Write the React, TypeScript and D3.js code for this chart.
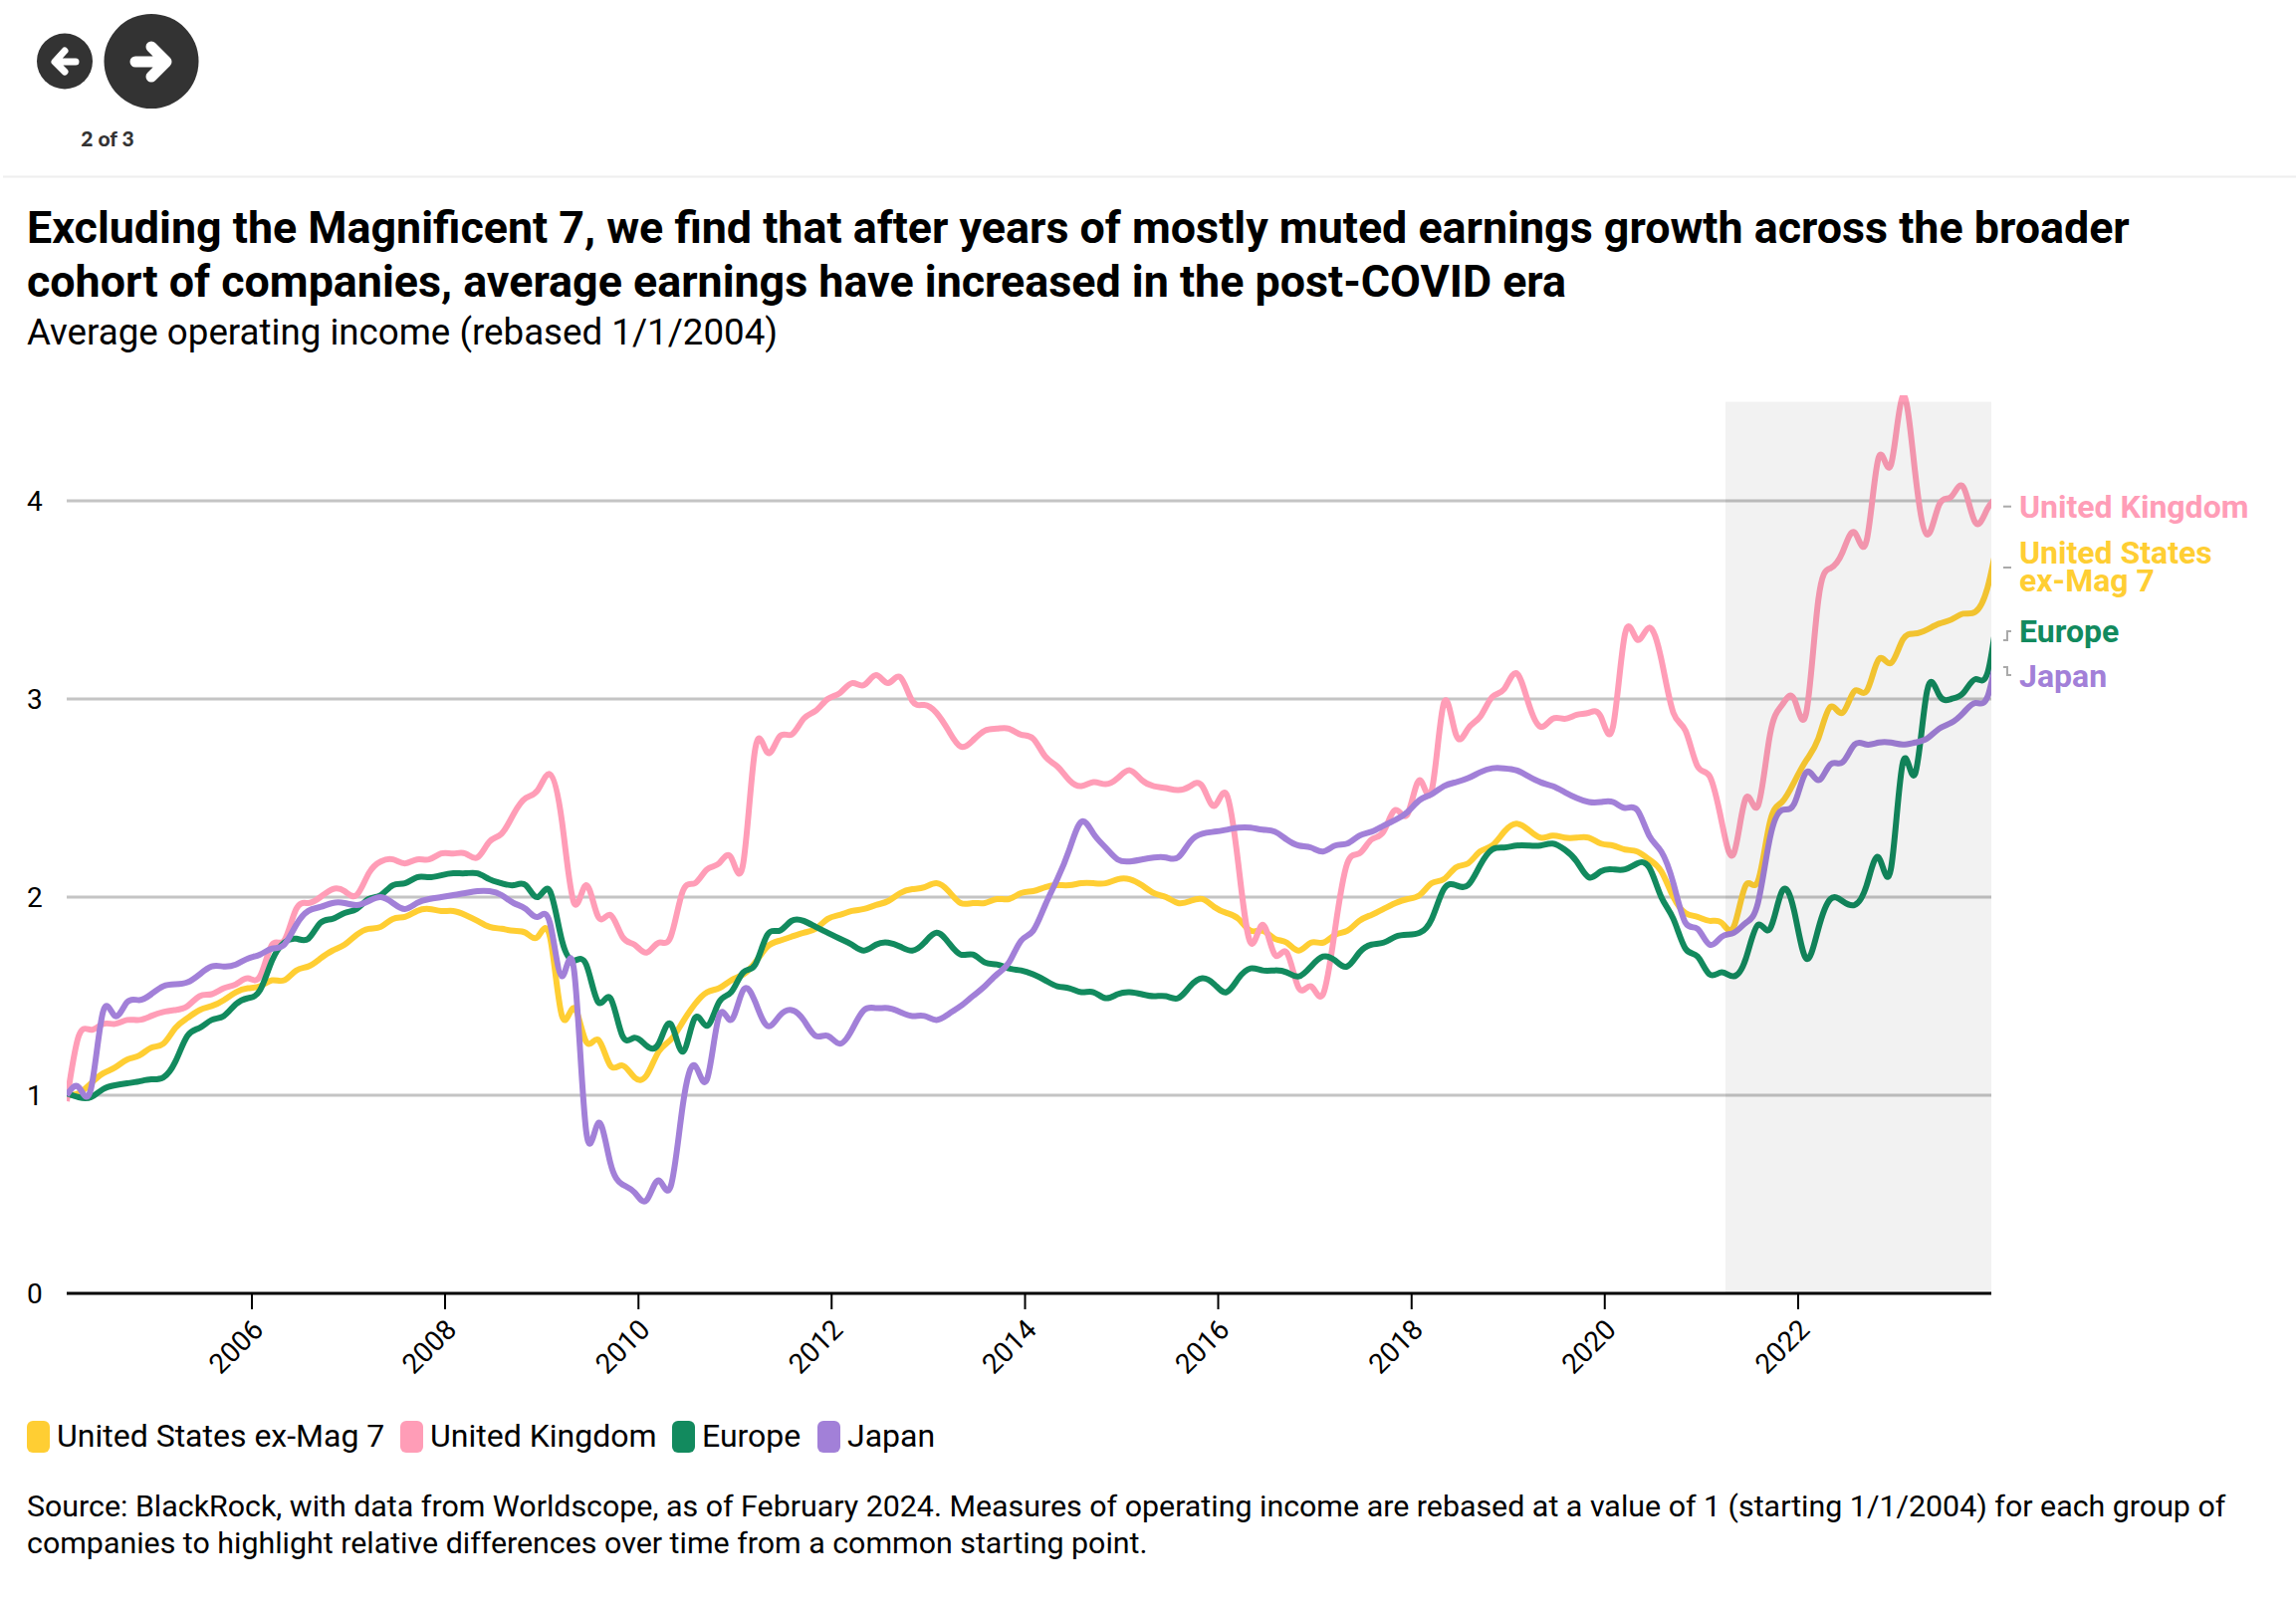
import * as d3 from 'd3';

const WIDTH = 2306;
const HEIGHT = 1616;
const FONT = 'Roboto, sans-serif';

// values sampled every month and a half from Feb 2004
const unitedStates = [
  1.0, 1.01, 1.06, 1.11, 1.14, 1.18, 1.2, 1.24, 1.26, 1.34,
  1.39, 1.43, 1.45, 1.48, 1.52, 1.54, 1.55, 1.58, 1.58, 1.63,
  1.65, 1.69, 1.73, 1.76, 1.81, 1.84, 1.85, 1.89, 1.9, 1.93,
  1.94, 1.93, 1.93, 1.91, 1.88, 1.85, 1.84, 1.83, 1.82, 1.8,
  1.8, 1.4, 1.44, 1.27, 1.28, 1.15, 1.15, 1.09, 1.1, 1.22,
  1.28, 1.37, 1.46, 1.52, 1.54, 1.58, 1.61, 1.67, 1.75, 1.78,
  1.8, 1.82, 1.84, 1.89, 1.91, 1.93, 1.94, 1.96, 1.98, 2.02,
  2.04, 2.05, 2.07, 2.03, 1.97, 1.97, 1.97, 1.99, 1.99, 2.02,
  2.03, 2.05, 2.06, 2.06, 2.07, 2.07, 2.07, 2.09, 2.09, 2.06,
  2.02, 2.0, 1.97, 1.98, 1.99, 1.95, 1.92, 1.89, 1.83, 1.83,
  1.79, 1.77, 1.73, 1.77, 1.77, 1.81, 1.83, 1.88, 1.91, 1.94,
  1.97, 1.99, 2.01, 2.07, 2.09, 2.15, 2.17, 2.23, 2.26, 2.33,
  2.37, 2.34, 2.3, 2.31, 2.3, 2.3, 2.3, 2.27, 2.26, 2.24,
  2.23, 2.19, 2.13, 2.0, 1.92, 1.9, 1.88, 1.87, 1.85, 2.06,
  2.08, 2.38, 2.48, 2.58, 2.69, 2.8, 2.96, 2.93, 3.04, 3.04,
  3.2, 3.18, 3.3, 3.33, 3.35, 3.38, 3.4, 3.43, 3.44, 3.56, 3.85,
];

const unitedKingdom = [
  0.97, 1.3, 1.33, 1.36, 1.36, 1.38, 1.38, 1.4, 1.42, 1.43,
  1.45, 1.5, 1.51, 1.54, 1.56, 1.59, 1.6, 1.76, 1.78, 1.94,
  1.97, 2.0, 2.04, 2.03, 2.01, 2.12, 2.18, 2.19, 2.17, 2.19,
  2.19, 2.22, 2.22, 2.22, 2.2, 2.28, 2.32, 2.42, 2.5, 2.54,
  2.62, 2.38, 1.97, 2.06, 1.9, 1.91, 1.8, 1.76, 1.72, 1.77,
  1.8, 2.03, 2.07, 2.14, 2.17, 2.2, 2.17, 2.75, 2.73, 2.81,
  2.82, 2.9, 2.94, 3.0, 3.03, 3.08, 3.07, 3.12, 3.08, 3.11,
  2.99, 2.97, 2.93, 2.84, 2.76, 2.79, 2.84, 2.85, 2.85, 2.82,
  2.8, 2.71, 2.66, 2.59, 2.56, 2.58, 2.57, 2.6, 2.64, 2.59,
  2.56, 2.55, 2.54, 2.56, 2.56, 2.46, 2.52, 2.16, 1.77, 1.86,
  1.71, 1.72, 1.54, 1.55, 1.51, 1.84, 2.17, 2.22, 2.29, 2.33,
  2.44, 2.42, 2.59, 2.54, 2.98, 2.82, 2.85, 2.91, 3.01, 3.05,
  3.13, 2.98, 2.86, 2.9, 2.9, 2.92, 2.93, 2.91, 2.86, 3.33,
  3.3, 3.36, 3.2, 2.93, 2.84, 2.66, 2.61, 2.38, 2.22, 2.5,
  2.46, 2.82, 2.97, 3.0, 2.93, 3.5, 3.66, 3.74, 3.84, 3.8,
  4.22, 4.18, 4.53, 4.15, 3.83, 3.98, 4.02, 4.07, 3.89, 3.96, 4.03,
];

const europe = [
  1.01, 0.99, 0.99, 1.03, 1.05, 1.06, 1.07, 1.08, 1.09, 1.17,
  1.3, 1.34, 1.38, 1.4, 1.46, 1.49, 1.53, 1.68, 1.77, 1.79,
  1.79, 1.87, 1.89, 1.92, 1.94, 1.99, 2.01, 2.06, 2.07, 2.1,
  2.1, 2.11, 2.12, 2.12, 2.12, 2.09, 2.07, 2.06, 2.06, 2.0,
  2.03, 1.78, 1.68, 1.66, 1.47, 1.49, 1.3, 1.29, 1.25, 1.26,
  1.36, 1.22, 1.39, 1.35, 1.47, 1.52, 1.62, 1.66, 1.81, 1.83,
  1.88, 1.88, 1.85, 1.82, 1.79, 1.76, 1.73, 1.76, 1.77, 1.75,
  1.73, 1.77, 1.82, 1.77, 1.71, 1.71, 1.67, 1.66, 1.64, 1.63,
  1.61, 1.58, 1.55, 1.54, 1.52, 1.52, 1.49, 1.51, 1.52, 1.51,
  1.5, 1.5, 1.49, 1.55, 1.59, 1.56, 1.52, 1.59, 1.64, 1.63,
  1.63, 1.62, 1.6, 1.65, 1.7, 1.68, 1.65, 1.72, 1.76, 1.77,
  1.8, 1.81, 1.82, 1.89, 2.04, 2.06, 2.06, 2.16, 2.24, 2.25,
  2.26, 2.26, 2.26, 2.27, 2.24, 2.18, 2.1, 2.13, 2.14, 2.14,
  2.17, 2.15, 2.0, 1.89, 1.74, 1.7, 1.61, 1.62, 1.6, 1.69,
  1.86, 1.84, 2.03, 1.93, 1.69, 1.84, 1.99, 1.98, 1.96, 2.06,
  2.2, 2.14, 2.68, 2.62, 3.04, 3.02, 3.0, 3.03, 3.1, 3.13, 3.51,
];

const japan = [
  1.0, 1.04, 1.03, 1.42, 1.4, 1.47, 1.48, 1.51, 1.55, 1.56,
  1.57, 1.61, 1.65, 1.65, 1.66, 1.69, 1.71, 1.74, 1.76, 1.86,
  1.93, 1.95, 1.97, 1.97, 1.96, 1.98, 2.0, 1.97, 1.94, 1.97,
  1.99, 2.0, 2.01, 2.02, 2.03, 2.03, 2.01, 1.97, 1.94, 1.9,
  1.87, 1.6, 1.63, 0.82, 0.86, 0.66, 0.55, 0.51, 0.47, 0.57,
  0.54, 0.95, 1.15, 1.08, 1.4, 1.38, 1.53, 1.47, 1.35, 1.4,
  1.43, 1.38, 1.3, 1.3, 1.26, 1.33, 1.43, 1.44, 1.44, 1.42,
  1.4, 1.4, 1.38, 1.41, 1.45, 1.5, 1.55, 1.61, 1.67, 1.78,
  1.83, 1.96, 2.09, 2.24, 2.38, 2.32, 2.25, 2.19, 2.18, 2.19,
  2.2, 2.2, 2.2, 2.28, 2.32, 2.33, 2.34, 2.35, 2.35, 2.34,
  2.33, 2.29, 2.26, 2.25, 2.23, 2.26, 2.27, 2.31, 2.33, 2.36,
  2.39, 2.43, 2.49, 2.52, 2.56, 2.58, 2.6, 2.63, 2.65, 2.65,
  2.64, 2.61, 2.58, 2.56, 2.53, 2.5, 2.48, 2.48, 2.48, 2.45,
  2.44, 2.31, 2.23, 2.07, 1.87, 1.84, 1.76, 1.8, 1.82, 1.87,
  1.97, 2.3, 2.44, 2.47, 2.63, 2.59, 2.67, 2.68, 2.77, 2.77,
  2.78, 2.78, 2.77, 2.78, 2.8, 2.85, 2.88, 2.93, 2.98, 3.01, 3.3,
];

const yTicks = [0, 1, 2, 3, 4];
const xTickYears = [2006, 2008, 2010, 2012, 2014, 2016, 2018, 2020, 2022];

const seriesList = [
  { name: 'United States ex-Mag 7', color: '#ffce33', values: unitedStates },
  { name: 'United Kingdom', color: '#ff9db7', values: unitedKingdom },
  { name: 'Europe', color: '#128a5e', values: europe },
  { name: 'Japan', color: '#a280d8', values: japan },
];

const legendX = [27, 402, 675, 821];

const directLabels = [
  { lines: ['United Kingdom'], color: '#ff9db7', y: 520, from: 508.7, to: 508.7 },
  { lines: ['United States', 'ex-Mag 7'], color: '#ffce33', y: 566, from: 570, to: 570 },
  { lines: ['Europe'], color: '#128a5e', y: 645, from: 643, to: 634 },
  { lines: ['Japan'], color: '#a280d8', y: 690, from: 670, to: 678 },
];

const start = new Date(2004, 1, 1);
const end = new Date(2024, 0, 1);
const stepMs = 1.5 * 30.4375 * 24 * 3600 * 1000;
const sampleDates = unitedStates.map((_, i) => new Date(+start + i * stepMs));

const margin = { left: 67, right: 2000, top: 403.5, bottom: 1299 };

const x = d3.scaleTime().domain([start, end]).range([margin.left, margin.right]);
const y = d3.scaleLinear().domain([0, 4.5]).range([margin.bottom, margin.top]);

const line = d3
  .line<number>()
  .x((_, i) => x(sampleDates[i]))
  .y((d) => y(d))
  .curve(d3.curveNatural);

const connector = d3.line().curve(d3.curveStep);

const App = () => {
  const shadeStart = x(new Date(2021, 3, 1));

  return (
    <svg
      width={WIDTH}
      height={HEIGHT}
      style={{ position: 'absolute', top: 0, left: 0, background: '#fff', fontFamily: FONT }}
    >
      <defs>
        <clipPath id="plot-clip">
          <rect x={margin.left} y={397} width={margin.right - margin.left} height={margin.bottom - 397} />
        </clipPath>
      </defs>

      {/* nav buttons */}
      <circle cx={65} cy={61.5} r={28} fill="#333" />
      <path
        d="M65 51 L55 62 L65 72 M57 62 L76 62"
        fill="none"
        stroke="#fff"
        strokeWidth={7}
        strokeLinecap="round"
        strokeLinejoin="round"
      />
      <circle cx={152} cy={61.5} r={47.5} fill="#333" />
      <path
        d="M152 47 L167 62 L152 77 M136 62 L165 62"
        fill="none"
        stroke="#fff"
        strokeWidth={11}
        strokeLinecap="round"
        strokeLinejoin="round"
      />
      <text x={108} y={147} textAnchor="middle" fontSize={21} fontWeight={900} fill="#333" fontFamily="Lato, sans-serif">
        2 of 3
      </text>
      <line x1={3} x2={2306} y1={177.5} y2={177.5} stroke="#eeeeee" strokeWidth={2} />

      {/* header */}
      <text x={27} y={244} fontSize={44.8} fontWeight={700} fill="#000">
        Excluding the Magnificent 7, we find that after years of mostly muted earnings growth across the broader
      </text>
      <text x={27} y={298} fontSize={44.8} fontWeight={700} fill="#000">
        cohort of companies, average earnings have increased in the post-COVID era
      </text>
      <text x={27} y={346} fontSize={36.7} fill="#000">
        Average operating income (rebased 1/1/2004)
      </text>

      {/* grid */}
      {yTicks.slice(1).map((t) => (
        <line key={t} x1={margin.left} x2={margin.right} y1={y(t)} y2={y(t)} stroke="#c4c4c4" strokeWidth={3} />
      ))}
      {yTicks.map((t) => (
        <text key={t} x={27} y={y(t) + 10} fontSize={28} fill="#000">
          {t}
        </text>
      ))}

      {/* lines */}
      <g clipPath="url(#plot-clip)">
        {seriesList.map((s) => (
          <path key={s.name} d={line(s.values) ?? ''} fill="none" stroke={s.color} strokeWidth={6} />
        ))}
      </g>

      {/* shaded post-covid range sits over the lines */}
      <rect
        x={shadeStart}
        y={margin.top}
        width={margin.right - shadeStart}
        height={margin.bottom - margin.top}
        fill="#000"
        fillOpacity={0.052}
      />

      {/* x axis */}
      <line x1={margin.left} x2={margin.right} y1={y(0)} y2={y(0)} stroke="#000" strokeWidth={3} />
      {xTickYears.map((year) => {
        const tx = x(new Date(year, 0, 1));
        return (
          <g key={year}>
            <line x1={tx} x2={tx} y1={y(0)} y2={1315} stroke="#000" strokeWidth={2} />
            <text
              transform={`translate(${tx + 13},1337) rotate(-45)`}
              textAnchor="end"
              fontSize={28}
              fill="#000"
            >
              {year}
            </text>
          </g>
        );
      })}

      {/* legend */}
      {seriesList.map((s, i) => (
        <g key={s.name}>
          <rect x={legendX[i]} y={1427} width={23} height={32} rx={6} fill={s.color} />
          <text x={legendX[i] + 30} y={1453} fontSize={32} fill="#000">
            {s.name}
          </text>
        </g>
      ))}

      {/* source */}
      <text x={27} y={1523} fontSize={30.36} fill="#000">
        Source: BlackRock, with data from Worldscope, as of February 2024. Measures of operating income are rebased at a value of 1 (starting 1/1/2004) for each group of
      </text>
      <text x={27} y={1560} fontSize={30.36} fill="#000">
        companies to highlight relative differences over time from a common starting point.
      </text>

      {/* direct labels */}
      {directLabels.map((l) => (
        <g key={l.lines[0]}>
          <path
            d={connector([[2012, l.from], [2020, l.to]]) ?? ''}
            fill="none"
            stroke="#aaa"
            strokeWidth={2}
          />
          {l.lines.map((text, i) => (
            <text key={text} x={2028} y={l.y + i * 28} fontSize={32} fontWeight={700} fill={l.color}>
              {text}
            </text>
          ))}
        </g>
      ))}
    </svg>
  );
};

export default App;
